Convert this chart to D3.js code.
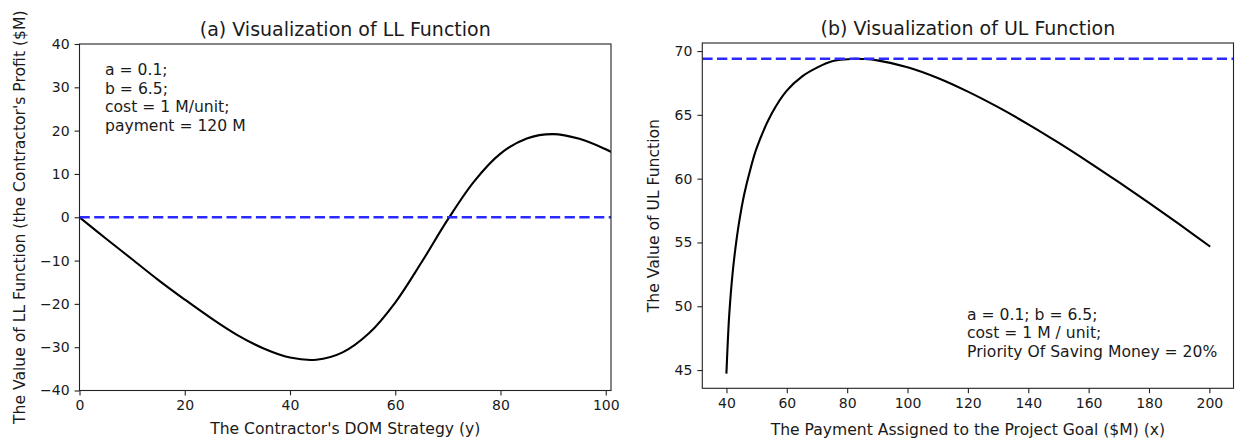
<!DOCTYPE html>
<html>
<head>
<meta charset="utf-8">
<script src="https://cdn.jsdelivr.net/npm/d3@7"></script>
<style>
  body { margin: 0; background: #fff; }
  svg { display: block; font-family: "DejaVu Sans", sans-serif; }
</style>
</head>
<body>
<svg id="chart" width="1238" height="443"></svg>
<script>
// ---- (a) LL function: contractor's profit vs. DOM strategy ----
const llStrategy = [0, 5, 10, 15, 20, 25, 30, 35, 40, 45, 50, 55, 60, 65, 70, 75, 80, 85, 90, 95, 100, 101];
const llValue    = [0, -4.9, -9.7, -14.5, -19.0, -23.3, -27.2, -30.3, -32.4, -32.9, -31.2, -26.8,
                    -19.7, -10.4, -0.5, 8.3, 14.7, 18.2, 19.2, 18.1, 15.7, 15.1];
const llTicksX = [0, 20, 40, 60, 80, 100];
const llTicksY = [-40, -30, -20, -10, 0, 10, 20, 30, 40];
const llReference = 0;
const llNotes = ["a = 0.1;", "b = 6.5;", "cost = 1 M/unit;", "payment = 120 M"];

// ---- (b) UL function: value vs. payment assigned to the goal ----
const ulPayment = [40, 40.5, 41, 42, 43, 44, 45, 46, 48, 50, 55, 60, 65, 70, 75, 80, 82.5, 85, 90,
                   100, 110, 120, 130, 140, 150, 160, 170, 180, 190, 200];
const ulValue   = [44.8, 47.5, 49.6, 52.5, 54.6, 56.3, 57.7, 58.9, 60.8, 62.4, 65.1, 66.9, 68.0, 68.7,
                   69.2, 69.36, 69.4, 69.38, 69.27, 68.73, 67.89, 66.82, 65.6, 64.26, 62.82, 61.3,
                   59.72, 58.1, 56.43, 54.72];
const ulTicksX = [40, 60, 80, 100, 120, 140, 160, 180, 200];
const ulTicksY = [45, 50, 55, 60, 65, 70];
const ulReference = 69.4;
const ulNotes = ["a = 0.1; b = 6.5;", "cost = 1 M / unit;", "Priority Of Saving Money = 20%"];

const svg = d3.select("#chart");
const TEXT = "#1a1a1a";

function drawPanel(cfg) {
  const x = d3.scaleLinear().domain(cfg.xDomain).range([cfg.left, cfg.right]);
  const y = d3.scaleLinear().domain(cfg.yDomain).range([cfg.bottom, cfg.top]);
  const g = svg.append("g");

  // axes
  const fmt = d3.format("d");
  const xAxis = g.append("g")
    .attr("transform", `translate(0,${cfg.bottom})`)
    .call(d3.axisBottom(x).tickValues(cfg.ticksX).tickFormat(fmt).tickSize(4.9).tickPadding(5));
  const yAxis = g.append("g")
    .attr("transform", `translate(${cfg.left},0)`)
    .call(d3.axisLeft(y).tickValues(cfg.ticksY).tickFormat(fmt).tickSize(4.9).tickPadding(5));
  [xAxis, yAxis].forEach(a => {
    a.select(".domain").remove();
    a.selectAll(".tick line").attr("stroke", "#222").attr("stroke-width", 1.1);
    a.selectAll(".tick text").attr("fill", TEXT).style("font-size", "14px")
      .style("font-family", "'DejaVu Sans', sans-serif");
  });

  // clip region for the data
  const clipId = "clip-" + cfg.id;
  svg.append("clipPath").attr("id", clipId)
    .append("rect").attr("x", cfg.left).attr("y", cfg.top)
    .attr("width", cfg.right - cfg.left).attr("height", cfg.bottom - cfg.top);

  const plot = g.append("g").attr("clip-path", `url(#${clipId})`);

  // curve
  const pts = cfg.xs.map((v, i) => [v, cfg.ys[i]]);
  plot.append("path")
    .attr("d", d3.line().x(d => x(d[0])).y(d => y(d[1])).curve(d3.curveCatmullRom.alpha(0.5))(pts))
    .attr("fill", "none").attr("stroke", "#000").attr("stroke-width", 2.1)
    .attr("stroke-linejoin", "round").attr("stroke-linecap", "square");

  // dashed reference line
  plot.append("line")
    .attr("x1", x(cfg.xDomain[0])).attr("x2", x(cfg.xDomain[1]))
    .attr("y1", y(cfg.reference)).attr("y2", y(cfg.reference))
    .attr("stroke", "#2a2aff").attr("stroke-width", 2.6)
    .attr("stroke-dasharray", "10.3,4.4");

  // frame
  g.append("rect")
    .attr("x", cfg.left).attr("y", cfg.top)
    .attr("width", cfg.right - cfg.left).attr("height", cfg.bottom - cfg.top)
    .attr("fill", "none").attr("stroke", "#222").attr("stroke-width", 1.1);

  // title
  g.append("text")
    .attr("x", (cfg.left + cfg.right) / 2).attr("y", cfg.top - 8.5)
    .attr("text-anchor", "middle").attr("fill", TEXT)
    .style("font-size", "19px").text(cfg.title);

  // axis labels
  g.append("text")
    .attr("x", (cfg.left + cfg.right) / 2).attr("y", cfg.xLabelY)
    .attr("text-anchor", "middle").attr("fill", TEXT)
    .style("font-size", "15.6px").text(cfg.xLabel);
  g.append("text")
    .attr("transform", `translate(${cfg.yLabelX},${(cfg.top + cfg.bottom) / 2}) rotate(-90)`)
    .attr("text-anchor", "middle").attr("fill", TEXT)
    .style("font-size", "15.6px").text(cfg.yLabel);

  // parameter notes
  const note = g.append("text").attr("fill", TEXT).style("font-size", "15.6px");
  cfg.notes.forEach((t, i) => {
    note.append("tspan").attr("x", cfg.noteX).attr("y", cfg.noteY + i * 18.5).text(t);
  });
}

drawPanel({
  id: "ll",
  left: 79.5, right: 611, top: 44, bottom: 390.5,
  xDomain: [0, 101], yDomain: [-40, 40],
  ticksX: llTicksX, ticksY: llTicksY,
  xs: llStrategy, ys: llValue, reference: llReference,
  title: "(a) Visualization of LL Function",
  xLabel: "The Contractor's DOM Strategy (y)", xLabelY: 434,
  yLabel: "The Value of LL Function (the Contractor's Profit ($M)", yLabelX: 25,
  notes: llNotes, noteX: 105, noteY: 75
});

drawPanel({
  id: "ul",
  left: 702.3, right: 1233.5, top: 43, bottom: 388.3,
  xDomain: [32, 208], yDomain: [43.57, 70.63],
  ticksX: ulTicksX, ticksY: ulTicksY,
  xs: ulPayment, ys: ulValue, reference: ulReference,
  title: "(b) Visualization of UL Function",
  xLabel: "The Payment Assigned to the Project Goal ($M) (x)", xLabelY: 434.5,
  yLabel: "The Value of UL Function", yLabelX: 659,
  notes: ulNotes, noteX: 967, noteY: 319.5
});
</script>
</body>
</html>
